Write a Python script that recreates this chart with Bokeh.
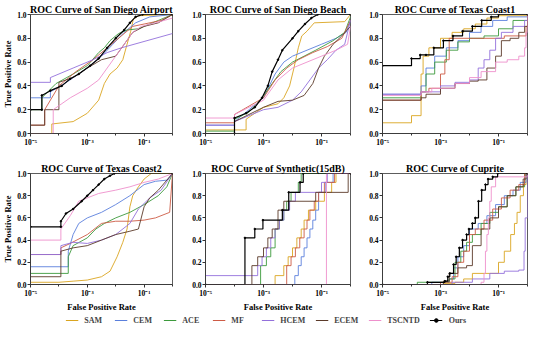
from bokeh.plotting import figure
from bokeh.layouts import column, row
from bokeh.models import (Range1d, FixedTicker, CustomJSTickFormatter,
                          NumeralTickFormatter, Legend, LegendItem)
from bokeh.embed import file_html
from bokeh.resources import INLINE

METHODS = ["SAM", "CEM", "ACE", "MF", "HCEM", "ECEM", "TSCNTD", "Ours"]
COLORS = ["#DAA520", "#5A7FDC", "#3C9A3C", "#CD5B45", "#9370DB", "#5B3A29", "#EE90CC", "black"]
X_TICK_EXP = [-5, -3, -1]
Y_TICKS = [0.0, 0.2, 0.4, 0.6, 0.8, 1.0]
TITLES = ["ROC Curve of San Diego Airport", "ROC Curve of San Diego Beach",
          "ROC Curve of Texas Coast1", "ROC Curve of Texas Coast2",
          "ROC Curve of Synthetic(15dB)", "ROC Curve of Cuprite"]

# ---- data: log10(false positive rate) and true positive rate per method ----
AIRPORT_LOGFPR = {
    "SAM": [-5, -4.25, -4.25, -3.5, -3.0, -2.6, -2.4, -2.2, -1.95, -1.75, -1.6, -1.47, -1.38, -1.2, 0],
    "CEM": [-5, -4.3, -4.3, -3.8, -3.3, -2.9, -2.5, -2.1, -1.7, -1.3, -0.8, 0],
    "ACE": [-5, -4.6, -4.6, -4.1, -3.5, -3.0, -2.6, -2.4, -2.2, -1.9, -1.6, -1.2, -0.5, 0],
    "MF": [-5, -4.5, -4.5, -4.0, -3.4, -2.8, -2.3, -1.8, -1.4, -1.0, -0.4, 0],
    "HCEM": [-5, -4.3, -4.3, -3.5, -2.8, -2.3, -1.8, 0],
    "ECEM": [-5, -4.5, -4.5, -4.0, -4.0, -3.5, -3.0, -2.5, -2.0, -1.7, -1.4, -1.0, -0.5, 0],
    "TSCNTD": [-5, -4.2, -4.2, -3.6, -3.0, -2.6, -2.3, -2.0, -1.7, -1.4, -1.1, -0.6, 0],
    "Ours": [-5, -4.6, -4.6, -4.3, -3.9, -3.6, -3.3, -2.9, -2.6, -2.3, -2.0, -1.7, -1.5, -1.3, -1.05, 0],
}
AIRPORT_TPR = {
    "SAM": [0.0, 0.0, 0.08, 0.10, 0.17, 0.28, 0.42, 0.50, 0.55, 0.62, 0.75, 0.86, 0.96, 0.99, 1.0],
    "CEM": [0.3, 0.3, 0.35, 0.42, 0.5, 0.57, 0.65, 0.75, 0.85, 0.93, 0.98, 1.0],
    "ACE": [0.2, 0.2, 0.3, 0.42, 0.5, 0.57, 0.68, 0.72, 0.78, 0.84, 0.87, 0.88, 0.95, 1.0],
    "MF": [0.07, 0.07, 0.2, 0.4, 0.52, 0.62, 0.72, 0.82, 0.9, 0.92, 0.95, 1.0],
    "HCEM": [0.43, 0.43, 0.47, 0.55, 0.62, 0.68, 0.72, 0.84],
    "ECEM": [0.07, 0.07, 0.2, 0.2, 0.43, 0.47, 0.55, 0.62, 0.65, 0.75, 0.85, 0.9, 0.93, 1.0],
    "TSCNTD": [0.0, 0.0, 0.2, 0.3, 0.38, 0.45, 0.55, 0.65, 0.75, 0.85, 0.9, 0.93, 0.97],
    "Ours": [0.2, 0.2, 0.32, 0.36, 0.4, 0.46, 0.5, 0.57, 0.63, 0.72, 0.8, 0.87, 0.93, 0.98, 1.0, 1.0],
}

BEACH_LOGFPR = {
    "SAM": [-5, -3.6, -3.6, -3.0, -2.5, -2.3, -2.1, -1.95, -1.8, -1.68, -1.5, -1.25, -0.2, 0],
    "CEM": [-5, -4, -4, -3, -2.6, -2.3, -2, -1.5, -1, -0.5, -0.15, 0],
    "ACE": [-5, -4, -4, -3.5, -3.05, -2.7, -2.4, -2.0, -1.6, -1.2, -0.6, -0.2, 0],
    "MF": [-5, -4, -4, -3, -2.6, -2.2, -1.8, -1.3, -0.8, -0.3, 0],
    "HCEM": [-5, -4, -4, -3, -2.5, -2.0, -1.7, -1.4, -1.1, -0.8, -0.5, -0.2, 0],
    "ECEM": [-5, -4, -4, -3.5, -3, -2.5, -2.0, -1.6, -1.3, -1.1, -0.9, -0.6, -0.3, 0],
    "TSCNTD": [-5, -4, -4, -3, -2.5, -2, -1.5, -1, -0.5, -0.1, 0],
    "Ours": [-5, -4, -4, -3.6, -3.3, -3.05, -2.85, -2.7, -2.5, -2.35, -2.0, -1.8, -1.57, -1.35, -1.13, 0],
}
BEACH_TPR = {
    "SAM": [0.03, 0.03, 0.12, 0.22, 0.25, 0.3, 0.4, 0.55, 0.72, 0.82, 0.86, 0.93, 0.94, 1.0],
    "CEM": [0.07, 0.07, 0.1, 0.3, 0.5, 0.6, 0.65, 0.7, 0.75, 0.8, 0.85, 0.95],
    "ACE": [0.02, 0.02, 0.12, 0.18, 0.3, 0.42, 0.52, 0.6, 0.65, 0.7, 0.78, 0.85, 0.98],
    "MF": [0.09, 0.09, 0.16, 0.3, 0.45, 0.55, 0.62, 0.68, 0.73, 0.8, 0.95],
    "HCEM": [0.07, 0.07, 0.1, 0.2, 0.22, 0.28, 0.35, 0.45, 0.55, 0.62, 0.7, 0.75, 0.95],
    "ECEM": [0.0, 0.0, 0.1, 0.16, 0.22, 0.27, 0.28, 0.32, 0.42, 0.55, 0.65, 0.75, 0.82, 0.9],
    "TSCNTD": [0.13, 0.13, 0.16, 0.28, 0.45, 0.55, 0.6, 0.65, 0.7, 0.75, 0.9],
    "Ours": [0.0, 0.0, 0.13, 0.17, 0.22, 0.3, 0.4, 0.52, 0.62, 0.7, 0.8, 0.86, 0.92, 0.97, 1.0, 1.0],
}

TEXAS1_LOGFPR = {
    "SAM": [-5, -4.0, -3.67, -3.6, -3.4, -3.0, -2.6, -2.2, -1.8, -1.4, -1.0, 0],
    "CEM": [-5, -3.67, -3.5, -3.2, -2.8, -2.4, -2.0, -1.6, -1.2, -0.7, 0],
    "ACE": [-5, -3.67, -3.5, -3.2, -2.8, -2.4, -2.0, -1.5, -1.0, -0.5, 0],
    "MF": [-5, -3.67, -3.4, -3.0, -2.85, -2.7, -0.8, -0.05, 0],
    "HCEM": [-5, -3.67, -3.0, -2.5, -2.0, -1.7, -1.5, -1.3, -1.1, -0.9, -0.5, -0.1, 0],
    "ECEM": [-5, -3.67, -3.5, -3.0, -2.5, -2.0, -1.7, -1.4, -1.1, -0.9, -0.6, -0.3, -0.1, 0],
    "TSCNTD": [-5, -3.67, -3.3, -2.5, -2.0, -1.6, -1.1, -0.7, -0.3, -0.1, -0.05, 0],
    "Ours": [-5, -4.0, -3.7, -3.5, -3.23, -2.9, -2.57, -2.24, -1.9, -1.58, -1.25, -1.0, 0],
}
TEXAS1_TPR = {
    "SAM": [0.09, 0.15, 0.5, 0.65, 0.72, 0.8, 0.85, 0.88, 0.92, 0.97, 0.99, 1.0],
    "CEM": [0.33, 0.4, 0.55, 0.65, 0.72, 0.78, 0.85, 0.9, 0.95, 0.98, 1.0],
    "ACE": [0.3, 0.35, 0.5, 0.6, 0.7, 0.77, 0.8, 0.82, 0.88, 0.95, 1.0],
    "MF": [0.28, 0.35, 0.38, 0.5, 0.62, 0.8, 0.82, 0.9, 1.0],
    "HCEM": [0.33, 0.35, 0.4, 0.43, 0.45, 0.55, 0.62, 0.7, 0.8, 0.85, 0.9, 0.95, 1.0],
    "ECEM": [0.28, 0.3, 0.33, 0.38, 0.42, 0.44, 0.45, 0.55, 0.65, 0.78, 0.8, 0.85, 0.9, 1.0],
    "TSCNTD": [0.32, 0.35, 0.38, 0.42, 0.47, 0.52, 0.6, 0.62, 0.65, 0.72, 0.85, 1.0],
    "Ours": [0.57, 0.63, 0.66, 0.66, 0.72, 0.78, 0.82, 0.86, 0.9, 0.95, 0.98, 1.0, 1.0],
}

TEXAS2_LOGFPR = {
    "SAM": [-5, -4, -3.5, -3.0, -2.5, -2.2, -1.95, -1.75, -1.6, -1.5, -1.4, -1.2, -1.0, -0.75, 0],
    "CEM": [-5, -3.67, -3.67, -3.5, -3.3, -3.0, -2.5, -2.0, -1.5, -1.0, -0.6, -0.2, 0],
    "ACE": [-5, -3.67, -3.67, -3.5, -3.0, -2.7, -2.4, -2.0, -1.5, -1.0, -0.5, -0.2, 0],
    "MF": [-5, -3.93, -3.93, -3.6, -3.0, -2.5, -2.0, -1.5, -1.0, -0.6, -0.1, 0],
    "HCEM": [-5, -3.93, -3.93, -3.5, -3.0, -2.5, -2.0, -1.5, -1.2, -0.8, -0.4, 0],
    "ECEM": [-5, -3.93, -3.93, -3.5, -3.0, -2.5, -2.0, -1.5, -1.2, -1.0, -0.8, -0.5, 0],
    "TSCNTD": [-5, -3.93, -3.93, -3.6, -3.3, -3.0, -2.6, -2.0, -1.5, -1.0, -0.5, 0],
    "Ours": [-5, -3.93, -3.93, -3.75, -3.5, -3.2, -3.0, -2.8, -2.6, -2.4, -2.2, -2.05, 0],
}
TEXAS2_TPR = {
    "SAM": [0.02, 0.02, 0.03, 0.04, 0.07, 0.12, 0.25, 0.38, 0.5, 0.7, 0.8, 0.88, 0.95, 1.0, 1.0],
    "CEM": [0.16, 0.16, 0.3, 0.45, 0.55, 0.6, 0.65, 0.72, 0.8, 0.9, 0.93, 0.94, 1.0],
    "ACE": [0.1, 0.1, 0.25, 0.35, 0.42, 0.5, 0.55, 0.6, 0.65, 0.72, 0.8, 0.88, 1.0],
    "MF": [0.27, 0.27, 0.33, 0.37, 0.45, 0.55, 0.57, 0.57, 0.58, 0.6, 0.65, 1.0],
    "HCEM": [0.27, 0.27, 0.35, 0.38, 0.37, 0.4, 0.45, 0.55, 0.68, 0.78, 0.85, 1.0],
    "ECEM": [0.07, 0.07, 0.3, 0.33, 0.35, 0.4, 0.45, 0.48, 0.5, 0.7, 0.78, 0.85, 1.0],
    "TSCNTD": [0.4, 0.4, 0.5, 0.62, 0.75, 0.78, 0.82, 0.85, 0.88, 0.92, 0.95, 1.0],
    "Ours": [0.52, 0.52, 0.57, 0.64, 0.68, 0.75, 0.8, 0.85, 0.9, 0.95, 0.98, 1.0, 1.0],
}

SYNTH_LOGFPR = {
    "SAM": [-5, -2.6, -2.3, -2.15, -2.0, -1.85, -1.7, -1.6, -1.45, -1.2, -0.9, -0.65, -0.5, 0],
    "CEM": [-5, -1.92, -1.8, -1.7, -1.6, -1.5, -1.4, -1.3, -1.2, -1.1, -0.85, -0.6, 0],
    "ACE": [-5, -3.1, -2.9, -2.75, -2.6, -2.45, -2.3, -2.2, -2.05, -1.8, -1.7, 0],
    "MF": [-5, -2.2, -2.05, -1.9, -1.75, -1.6, -1.5, -1.4, -1.25, -1.1, -0.9, -0.55, 0],
    "HCEM": [-5, -3.2, -3.05, -2.9, -2.75, -2.6, -2.45, -2.3, -2.1, -1.9, -1.0, -0.8, 0],
    "ECEM": [-5, -3.4, -3.2, -3.0, -2.85, -2.7, -2.5, -2.3, -1.2, -0.08, 0],
    "TSCNTD": [-5, -0.83, 0],
    "Ours": [-5, -3.64, -3.3, -3.02, -2.35, -2.13, -1.74, -1.63, 0],
}
SYNTH_TPR = {
    "SAM": [0, 0.08, 0.17, 0.25, 0.33, 0.42, 0.5, 0.58, 0.67, 0.75, 0.83, 0.92, 1.0, 1.0],
    "CEM": [0, 0.08, 0.17, 0.25, 0.33, 0.42, 0.5, 0.58, 0.67, 0.83, 0.92, 1.0, 1.0],
    "ACE": [0, 0.17, 0.25, 0.33, 0.5, 0.58, 0.67, 0.75, 0.83, 0.92, 1.0, 1.0],
    "MF": [0, 0.17, 0.25, 0.33, 0.42, 0.5, 0.58, 0.67, 0.75, 0.83, 0.92, 1.0, 1.0],
    "HCEM": [0.08, 0.17, 0.25, 0.33, 0.42, 0.5, 0.58, 0.67, 0.75, 0.83, 0.92, 1.0, 1.0],
    "ECEM": [0, 0.17, 0.25, 0.33, 0.42, 0.5, 0.67, 0.75, 0.83, 1.0, 1.0],
    "TSCNTD": [0, 1.0, 1.0],
    "Ours": [0.0, 0.42, 0.5, 0.58, 0.67, 0.83, 0.92, 1.0, 1.0],
}

CUPRITE_LOGFPR = {
    "SAM": [-5, -2.9, -2.5, -2.2, -1.9, -1.25, -1.0, -0.8, -0.58, -0.45, -0.36, -0.25, -0.14, -0.05, 0],
    "CEM": [-5, -3.3, -2.7, -2.55, -2.4, -2.2, -2.0, -1.7, -1.4, -1.1, -0.8, -0.5, -0.25, -0.05, 0],
    "ACE": [-5, -3.8, -2.7, -2.5, -2.3, -2.1, -1.9, -1.6, -1.3, -1.0, -0.7, -0.4, -0.1, 0],
    "MF": [-5, -3.0, -2.6, -2.4, -2.2, -2.0, -1.8, -1.5, -1.2, -0.9, -0.6, -0.3, -0.1, 0],
    "HCEM": [-5, -2.6, -1.9, -1.3, -0.8, -0.3, -0.12, -0.08, 0],
    "ECEM": [-5, -2.9, -2.7, -2.4, -2.1, -1.9, -1.6, -1.3, -1.0, -0.7, -0.4, -0.15, -0.05, 0],
    "TSCNTD": [-5, -1.6, -1.5, -1.45, -1.4, -1.35, -1.3, -1.25, -1.1, 0],
    "Ours": [-5, -3.45, -2.85, -2.75, -2.68, -2.55, -2.46, -2.35, -2.24, -2.1, -2.02, -1.9, -1.8,
             -1.69, -1.58, -1.45, -1.36, -1.2, -1.03, 0],
}
CUPRITE_TPR = {
    "SAM": [0, 0.01, 0.02, 0.05, 0.1, 0.1, 0.2, 0.3, 0.45, 0.55, 0.65, 0.8, 0.9, 1.0, 1.0],
    "CEM": [0, 0.02, 0.05, 0.15, 0.25, 0.35, 0.5, 0.55, 0.62, 0.72, 0.8, 0.85, 0.92, 1.0, 1.0],
    "ACE": [0, 0.02, 0.05, 0.2, 0.3, 0.38, 0.45, 0.55, 0.65, 0.7, 0.8, 0.88, 1.0, 1.0],
    "MF": [0, 0.02, 0.07, 0.2, 0.3, 0.45, 0.5, 0.58, 0.68, 0.78, 0.85, 0.9, 1.0, 1.0],
    "HCEM": [0, 0.02, 0.05, 0.1, 0.12, 0.13, 0.3, 0.6, 1.0],
    "ECEM": [0, 0.03, 0.1, 0.15, 0.17, 0.35, 0.5, 0.6, 0.7, 0.8, 0.88, 0.95, 1.0, 1.0],
    "TSCNTD": [0, 0.02, 0.1, 0.3, 0.45, 0.6, 0.75, 0.88, 0.97, 1.0],
    "Ours": [0, 0.02, 0.03, 0.07, 0.1, 0.18, 0.25, 0.33, 0.4, 0.45, 0.5, 0.55, 0.6, 0.75, 0.85,
             0.9, 0.95, 0.97, 1.0, 1.0],
}

PANELS = [
    (AIRPORT_LOGFPR, AIRPORT_TPR, "line"),
    (BEACH_LOGFPR, BEACH_TPR, "line"),
    (TEXAS1_LOGFPR, TEXAS1_TPR, "step"),
    (TEXAS2_LOGFPR, TEXAS2_TPR, "line"),
    (SYNTH_LOGFPR, SYNTH_TPR, "step"),
    (CUPRITE_LOGFPR, CUPRITE_TPR, "step"),
]

FONT = "Liberation Serif"

# column geometry: (fig width, left border, right border)
COLS = [(181, 27, 9), (177, 24, 8), (176, 24, 7)]
# row geometry: (fig height, top border, bottom border)
ROWS = [(159, 14, 26), (155, 14, 22)]

x_formatter_code = """
const e = Math.round(Math.log10(tick));
const sup = {'-':'\u207b','0':'\u2070','1':'\u00b9','2':'\u00b2','3':'\u00b3','4':'\u2074','5':'\u2075','6':'\u2076','7':'\u2077','8':'\u2078','9':'\u2079'};
return '10' + String(e).split('').map(c => sup[c]).join('');
"""


def make_panel(idx):
    logfpr, tpr, mode = PANELS[idx]
    r, c = divmod(idx, 3)
    w, bl, br = COLS[c]
    h, bt, bb = ROWS[r]
    p = figure(width=w, height=h, x_axis_type="log",
               x_range=Range1d(1e-5, 1.0), y_range=Range1d(0, 1.0),
               output_backend="svg", toolbar_location=None,
               min_border_left=bl, min_border_right=br,
               min_border_top=bt, min_border_bottom=bb)
    p.title.text = TITLES[idx]
    p.title.align = "center"
    p.title.text_font = FONT
    p.title.text_font_size = "10px"
    p.title.text_font_style = "bold"
    p.title.text_color = "black"
    p.title.standoff = 0
    p.title.offset = 0
    p.grid.visible = False
    p.outline_line_color = "#333333"
    p.outline_line_width = 0.8
    p.background_fill_color = "white"
    p.border_fill_color = "white"

    for m, col in zip(METHODS, COLORS):
        xs = [10 ** v for v in logfpr[m]]
        ys = tpr[m]
        lw = 1.2 if m == "Ours" else 0.9
        if mode == "step":
            p.step(xs, ys, mode="after", line_color=col, line_width=lw)
        else:
            p.line(xs, ys, line_color=col, line_width=lw)
        if m == "Ours":
            p.scatter(xs, ys, size=1.6, color=col)

    xa = p.xaxis[0]
    xa.ticker = FixedTicker(ticks=[10.0 ** e for e in X_TICK_EXP],
                            minor_ticks=[1e-4, 1e-2, 1.0])
    xa.formatter = CustomJSTickFormatter(code=x_formatter_code)
    ya = p.yaxis[0]
    ya.ticker = FixedTicker(ticks=Y_TICKS)
    ya.formatter = NumeralTickFormatter(format="0.0")
    for ax in (xa, ya):
        ax.axis_line_color = "#333333"
        ax.axis_line_width = 0.8
        ax.major_tick_line_color = "#333333"
        ax.minor_tick_line_color = "#333333"
        ax.major_tick_out = 3
        ax.major_tick_in = 0
        ax.minor_tick_out = 2
        ax.minor_tick_in = 0
        ax.major_label_standoff = 1
        ax.major_label_text_font = FONT
        ax.major_label_text_font_size = "7.5px"
        ax.major_label_text_font_style = "bold"
        ax.major_label_text_color = "black"
        ax.axis_label_text_font = FONT
        ax.axis_label_text_font_size = "8.5px"
        ax.axis_label_text_font_style = "bold"
        ax.axis_label_text_color = "black"
        ax.axis_label_standoff = 1
    ya.minor_tick_out = 0
    if c == 0:
        ya.axis_label = "True Positive Rate"
    if r == 1:
        xa.axis_label = "False Positive Rate"
    return p


panels = [make_panel(i) for i in range(6)]

leg = figure(width=534, height=11, output_backend="svg", toolbar_location=None,
             x_range=Range1d(0, 1), y_range=Range1d(0, 1),
             x_axis_location=None, y_axis_location=None, min_border=0)
leg.grid.visible = False
leg.outline_line_color = None
items = []
for m, col in zip(METHODS, COLORS):
    rl = leg.line([-10, -9], [-10, -10], line_color=col, line_width=1.0)
    rends = [rl]
    if m == "Ours":
        rends.append(leg.scatter([-10], [-10], size=3, color=col))
    items.append(LegendItem(label=m, renderers=rends))
legend = Legend(items=items, orientation="horizontal", location="center",
                label_text_font=FONT, label_text_font_size="8px",
                label_text_font_style="bold", label_height=9, glyph_height=9,
                glyph_width=13, label_standoff=6, spacing=10, padding=0,
                margin=0, border_line_color=None, background_fill_alpha=0)
leg.add_layout(legend, "center")

layout = column(row(*panels[:3]), row(*panels[3:]), leg)
open("out.html", "w").write(file_html(layout, INLINE))
